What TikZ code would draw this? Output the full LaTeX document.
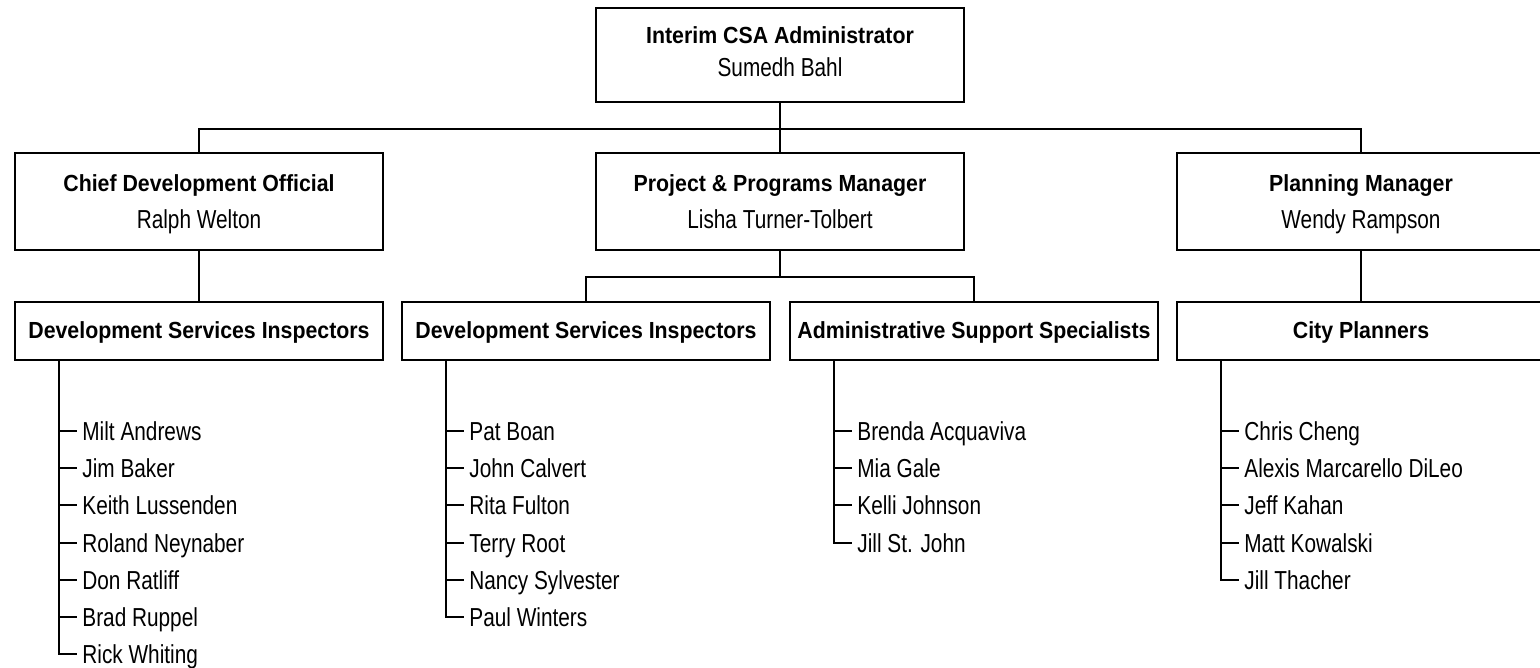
\documentclass[tikz,border=0pt]{standalone}
\usepackage{fontspec}
\setmainfont{Liberation Sans}
\newfontfamily\regf[FakeStretch=0.80]{Liberation Sans}
\newfontfamily\boldf[FakeStretch=0.915]{Liberation Sans}
\usetikzlibrary{calc}
% #1 box name, #2 baseline offset below box top (px), #3 text
\newcommand\ttl[3]{\node[ttlt] (#1-t) at ([yshift={-(#2)*0.5}]#1.north) {#3};}
\newcommand\nme[3]{\node[nmet] (#1-n) at ([yshift={-(#2)*0.5}]#1.north) {#3};}
\newcommand\members[2]{%
  \foreach \n [count=\i] in {#2}{%
    \node[item] (#1-m\i) at ([xshift=34pt,yshift={-(round(70+37.2*(\i-1))+9.5)*0.5}]#1.south west) {\n};
    \draw[conn] ([xshift=22.5pt]#1.south west) |- ([xshift=-2.5pt,yshift=4.75pt]#1-m\i.base west);
  }}
\begin{document}
\begin{tikzpicture}[x=0.5pt,y=-0.5pt,
  box/.style={draw,line width=1pt,minimum width=184pt,inner sep=0pt},
  tall/.style={box,minimum height=48.5pt},
  flat/.style={box,minimum height=29pt},
  ttlt/.style={anchor=base,inner sep=0pt,font=\boldf\bfseries\fontsize{11.65}{14}\selectfont},
  nmet/.style={anchor=base,inner sep=0pt,font=\regf\fontsize{13}{15.6}\selectfont},
  conn/.style={line width=1pt},
  item/.style={anchor=base west,inner sep=0pt,font=\regf\fontsize{13}{15.6}\selectfont}]
\useasboundingbox (0,0) rectangle (1540,668);
\fill[white] (0,0) rectangle (1540,668);
\clip (0,0) rectangle (1540,668);

\node[box,minimum height=47pt] (top) at (780,55) {};
\node[tall] (chief) at (199,201.5) {};
\node[tall] (proj) at (780,201.5) {};
\node[tall] (plan) at (1361,201.5) {};
\node[flat] (dsia) at (199,331) {};
\node[flat] (dsib) at (586,331) {};
\node[flat] (admin) at (974,331) {};
\node[flat] (city) at (1361,331) {};

\ttl{top}{36.5}{Interim CSA Administrator}
\nme{top}{69.5}{Sumedh Bahl}
\ttl{chief}{39.5}{Chief Development Official}
\nme{chief}{76}{Ralph Welton}
\ttl{proj}{39.5}{Project \& Programs Manager}
\nme{proj}{76}{Lisha Turner-Tolbert}
\ttl{plan}{39.5}{Planning Manager}
\nme{plan}{76}{Wendy Rampson}
\ttl{dsia}{37.3}{Development Services Inspectors}
\ttl{dsib}{37.3}{Development Services Inspectors}
\ttl{admin}{37.3}{Administrative Support Specialists}
\ttl{city}{37.3}{City Planners}

\draw[conn] (top.south) -- ([yshift=-13pt]top.south) coordinate (j1);
\draw[conn] (chief.north) |- (j1) -| (plan.north);
\draw[conn] (j1) -- (proj.north);
\draw[conn] (proj.south) -- ([yshift=-13pt]proj.south) coordinate (j2);
\draw[conn] (dsib.north) |- (j2) -| (admin.north);
\draw[conn] (chief.south) -- (dsia.north);
\draw[conn] (plan.south) -- (city.north);

\members{dsia}{Milt Andrews,Jim Baker,Keith Lussenden,Roland Neynaber,Don Ratliff,Brad Ruppel,Rick Whiting}
\members{dsib}{Pat Boan,John Calvert,Rita Fulton,Terry Root,Nancy Sylvester,Paul Winters}
\members{admin}{Brenda Acquaviva,Mia Gale,Kelli Johnson,Jill St. John}
\members{city}{Chris Cheng,Alexis Marcarello DiLeo,Jeff Kahan,Matt Kowalski,Jill Thacher}
\end{tikzpicture}
\end{document}
